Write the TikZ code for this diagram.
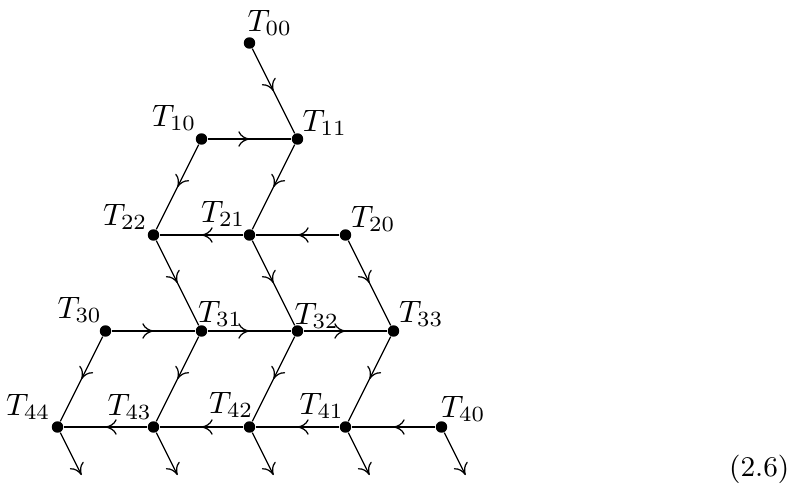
\documentclass[tikz,border=0pt]{standalone}
\usetikzlibrary{decorations.markings,arrows.meta}
\begin{document}
\begin{tikzpicture}[x=0.3226pt,y=-0.3226pt,
  dot/.style={circle,fill,inner sep=0pt,minimum size=3.7pt},
  lab/.style={inner sep=0pt},
  midarr/.style={postaction={decorate},decoration={markings,mark=at position 0.5 with {\arrow{Computer Modern Rightarrow[length=3.6pt,width=5pt]}}}},
  endarr/.style={-{Computer Modern Rightarrow[length=3.6pt,width=5pt]}}]
\useasboundingbox (0,0) rectangle (795,486);
% dots
\node[dot] (T00) at (249.5,43) {};
\node[dot] (T10) at (201.5,139) {};
\node[dot] (T11) at (297.5,139) {};
\node[dot] (T22) at (153.5,235) {};
\node[dot] (T21) at (249.5,235) {};
\node[dot] (T20) at (345.5,235) {};
\node[dot] (T30) at (105.5,331) {};
\node[dot] (T31) at (201.5,331) {};
\node[dot] (T32) at (297.5,331) {};
\node[dot] (T33) at (393.5,331) {};
\node[dot] (T44) at (57.5,427) {};
\node[dot] (T43) at (153.5,427) {};
\node[dot] (T42) at (249.5,427) {};
\node[dot] (T41) at (345.5,427) {};
\node[dot] (T40) at (441.5,427) {};
% free ends
\coordinate (F44) at (81.5,475);
\coordinate (F43) at (177.5,475);
\coordinate (F42) at (273.5,475);
\coordinate (F41) at (369.5,475);
\coordinate (F40) at (465.5,475);
% labels
\node[lab,anchor=base west] (L00) at (247,31) {$T_{00}$};
\node[lab,anchor=base east] (L10) at (197,126) {$T_{10}$};
\node[lab,anchor=base west] (L11) at (302,131) {$T_{11}$};
\node[lab,anchor=base east] (L22) at (148,225) {$T_{22}$};
\node[lab,anchor=base east] (L21) at (246,222) {$T_{21}$};
\node[lab,anchor=base west] (L20) at (350.5,227) {$T_{20}$};
\node[lab,anchor=base east] (L30) at (102.5,318) {$T_{30}$};
\node[lab,anchor=base west] (L31) at (197.5,322) {$T_{31}$};
\node[lab,anchor=base west] (L32) at (294,324) {$T_{32}$};
\node[lab,anchor=base west] (L33) at (398.5,322) {$T_{33}$};
\node[lab,anchor=base east] (L44) at (51,415) {$T_{44}$};
\node[lab,anchor=base east] (L43) at (152.5,415) {$T_{43}$};
\node[lab,anchor=base east] (L42) at (254,413) {$T_{42}$};
\node[lab,anchor=base east] (L41) at (344.5,414) {$T_{41}$};
\node[lab,anchor=base west] (L40) at (440.5,417) {$T_{40}$};
\node[lab,anchor=base east,font=\fontsize{9.2}{11}\selectfont] (eq) at (790,476) {(2.6)};
% connectors
\draw[midarr] (T00) -- (T11);
\draw[midarr] (T10) -- (T11);
\draw[midarr] (T10) -- (T22);
\draw[midarr] (T11) -- (T21);
\draw[midarr] (T20) -- (T21);
\draw[midarr] (T21) -- (T22);
\draw[midarr] (T22) -- (T31);
\draw[midarr] (T21) -- (T32);
\draw[midarr] (T20) -- (T33);
\draw[midarr] (T30) -- (T31);
\draw[midarr] (T31) -- (T32);
\draw[midarr] (T32) -- (T33);
\draw[midarr] (T30) -- (T44);
\draw[midarr] (T31) -- (T43);
\draw[midarr] (T32) -- (T42);
\draw[midarr] (T33) -- (T41);
\draw[midarr] (T40) -- (T41);
\draw[midarr] (T41) -- (T42);
\draw[midarr] (T42) -- (T43);
\draw[midarr] (T43) -- (T44);
\draw[endarr] (T44) -- (F44);
\draw[endarr] (T43) -- (F43);
\draw[endarr] (T42) -- (F42);
\draw[endarr] (T41) -- (F41);
\draw[endarr] (T40) -- (F40);
\end{tikzpicture}
\end{document}
